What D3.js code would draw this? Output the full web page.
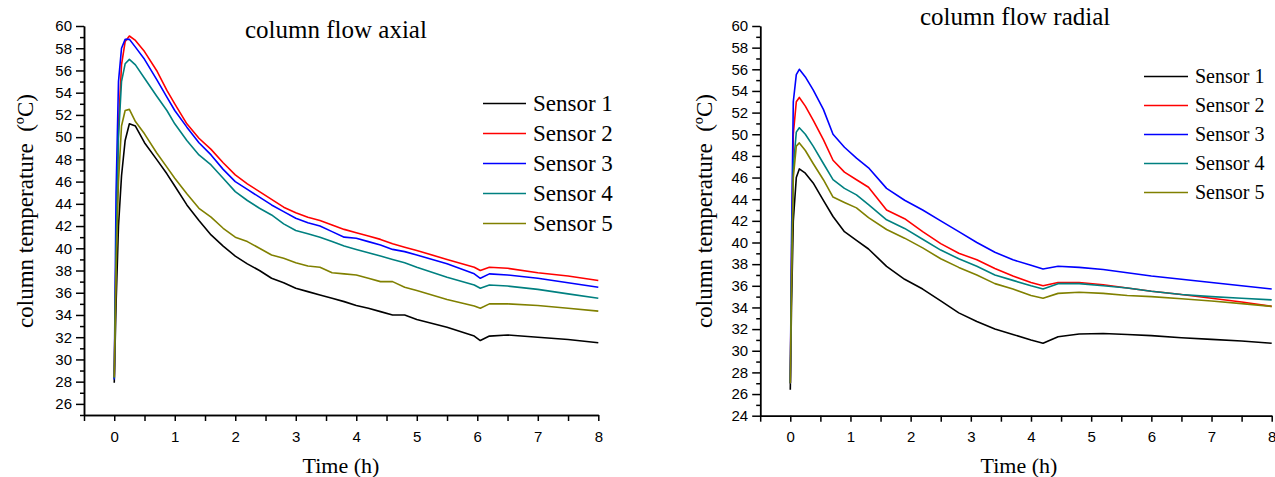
<!DOCTYPE html>
<html lang="en">
<head>
    <meta charset="UTF-8">
    <title>column flow</title>
    <style>
        html,
        body {
            margin: 0;
            height: 100%;
            overflow: hidden;
            background: #fff;
        }
        .serif {
            font-family: "Liberation Serif", "Times New Roman", serif;
        }
    </style>
    <script src="https://d3js.org/d3.v7.min.js"></script>
</head>
<body>
    <svg id="svg"></svg>
    <script>
        // ---- data (time in h, temperature in ºC) ----
        const sensorNames = ['Sensor 1', 'Sensor 2', 'Sensor 3', 'Sensor 4', 'Sensor 5'];
        const xTickLabels = [0, 1, 2, 3, 4, 5, 6, 7, 8];
        const axialYTicks = [26, 28, 30, 32, 34, 36, 38, 40, 42, 44, 46, 48, 50, 52, 54, 56, 58, 60];
        const radialYTicks = [24, 26, 28, 30, 32, 34, 36, 38, 40, 42, 44, 46, 48, 50, 52, 54, 56, 58, 60];

        const axialTime = [0, 0.03, 0.07, 0.12, 0.18, 0.25, 0.35, 0.5, 0.7, 0.87, 1.0, 1.2, 1.4, 1.6, 1.8, 2.0, 2.2, 2.4, 2.6, 2.8, 3.0, 3.2, 3.4, 3.6, 3.8, 4.0, 4.2, 4.4, 4.6, 4.8, 5.0, 5.5, 5.95, 6.05, 6.2, 6.5, 7.0, 7.5, 8.0];
        const axialS1 = [27.9, 35, 42, 46.5, 49.7, 51.2, 51.0, 49.5, 48.0, 46.7, 45.6, 43.9, 42.5, 41.2, 40.2, 39.3, 38.6, 38.0, 37.3, 36.9, 36.4, 36.1, 35.8, 35.5, 35.2, 34.85, 34.6, 34.3, 34.0, 34.0, 33.6, 32.9, 32.1, 31.7, 32.1, 32.2, 32.0, 31.8, 31.5];
        const axialS2 = [28.3, 40, 51, 56.5, 58.6, 59.1, 58.7, 57.7, 56.0, 54.2, 53.0, 51.2, 49.9, 48.9, 47.7, 46.6, 45.8, 45.1, 44.4, 43.7, 43.2, 42.8, 42.5, 42.1, 41.7, 41.4, 41.1, 40.8, 40.4, 40.1, 39.8, 39.0, 38.3, 38.0, 38.3, 38.2, 37.8, 37.5, 37.1];
        const axialS3 = [28.2, 45, 55, 58, 58.8, 58.8, 58.1, 57.0, 55.2, 53.6, 52.4, 50.9, 49.5, 48.4, 47.1, 46.0, 45.3, 44.6, 43.9, 43.3, 42.7, 42.3, 42.0, 41.5, 41.0, 40.9, 40.6, 40.3, 39.9, 39.7, 39.4, 38.6, 37.7, 37.3, 37.7, 37.6, 37.3, 36.9, 36.5];
        const axialS4 = [28.3, 40, 50, 55, 56.6, 57.0, 56.5, 55.3, 53.7, 52.4, 51.2, 49.7, 48.4, 47.5, 46.3, 45.1, 44.3, 43.6, 43.0, 42.2, 41.6, 41.3, 41.0, 40.6, 40.2, 39.9, 39.6, 39.3, 39.0, 38.7, 38.3, 37.4, 36.7, 36.4, 36.7, 36.6, 36.3, 35.9, 35.5];
        const axialS5 = [28.4, 38, 46, 51, 52.4, 52.5, 51.4, 50.3, 48.6, 47.3, 46.3, 44.9, 43.6, 42.8, 41.8, 41.0, 40.6, 40.0, 39.4, 39.1, 38.7, 38.4, 38.3, 37.8, 37.7, 37.6, 37.3, 37.0, 37.0, 36.5, 36.2, 35.4, 34.8, 34.6, 35.0, 35.0, 34.85, 34.6, 34.35];

        const radialTime = [0, 0.02, 0.05, 0.1, 0.15, 0.25, 0.38, 0.55, 0.71, 0.9, 1.1, 1.3, 1.6, 1.9, 2.2, 2.5, 2.8, 3.1, 3.4, 3.7, 4.0, 4.2, 4.45, 4.8, 5.2, 5.6, 6.0, 6.5, 7.0, 7.5, 8.0];
        const radialS1 = [26.4, 34, 42, 46.0, 46.8, 46.4, 45.5, 43.9, 42.4, 41.0, 40.2, 39.4, 37.8, 36.6, 35.7, 34.6, 33.5, 32.7, 32.0, 31.5, 31.0, 30.7, 31.3, 31.55, 31.6, 31.5, 31.4, 31.2, 31.05, 30.9, 30.7];
        const radialS2 = [27, 38, 50, 53, 53.4, 52.6, 51.3, 49.5, 47.6, 46.5, 45.8, 45.1, 43.0, 42.2, 41.0, 39.9, 39.0, 38.4, 37.6, 36.9, 36.3, 36.0, 36.3, 36.3, 36.1, 35.8, 35.5, 35.2, 34.85, 34.5, 34.1];
        const radialS3 = [27, 40, 53, 55.5, 56.0, 55.3, 54.1, 52.3, 50.0, 48.8, 47.8, 46.9, 45.0, 43.9, 43.0, 42.0, 41.0, 40.0, 39.1, 38.4, 37.9, 37.55, 37.8, 37.7, 37.5, 37.2, 36.9, 36.6, 36.3, 36.0, 35.7];
        const radialS4 = [27, 37, 47, 50.2, 50.6, 50.0, 48.9, 47.3, 45.8, 45.0, 44.4, 43.5, 42.1, 41.3, 40.3, 39.3, 38.5, 37.8, 37.0, 36.5, 36.0, 35.7, 36.2, 36.2, 36.0, 35.8, 35.5, 35.2, 35.0, 34.85, 34.7];
        const radialS5 = [27, 36, 46, 48.9, 49.2, 48.5, 47.3, 45.8, 44.2, 43.7, 43.2, 42.3, 41.2, 40.4, 39.5, 38.5, 37.7, 37.0, 36.2, 35.7, 35.1, 34.85, 35.3, 35.4, 35.3, 35.1, 35.0, 34.8, 34.6, 34.35, 34.1];

        const colors = ['#000000', '#ff0000', '#0000ff', '#008080', '#808000'];

        const svg = d3.select('#svg').attr('width', 1275).attr('height', 477);

        function drawPanel(p) {
            const g = svg.append('g');
            const xScale = d3.scaleLinear().domain([-0.5, 8]).range(p.xRange);
            const yScale = d3.scaleLinear().domain(p.yDomain).range(p.yRange);
            const yMinor = d3.range(p.yDomain[0], p.yDomain[1], 1).filter(v => !p.yTicks.includes(v));
            const xMinor = d3.range(-0.5, 8, 1);

            // minor ticks first, then major ticks with labels
            g.append('g').attr('transform', `translate(${p.xRange[0]},0)`)
                .call(d3.axisLeft(yScale).tickValues(yMinor).tickSize(4).tickSizeOuter(0).tickFormat(''));
            g.append('g').attr('transform', `translate(${p.xRange[0]},0)`)
                .call(d3.axisLeft(yScale).tickValues(p.yTicks).tickSize(8).tickSizeOuter(0).tickPadding(4));
            g.append('g').attr('transform', `translate(0,${p.yRange[0]})`)
                .call(d3.axisBottom(xScale).tickValues(xMinor).tickSize(6).tickSizeOuter(0).tickFormat(''));
            g.append('g').attr('transform', `translate(0,${p.yRange[0]})`)
                .call(d3.axisBottom(xScale).tickValues(xTickLabels).tickSize(6).tickSizeOuter(0).tickPadding(10));

            g.selectAll('.domain, .tick line').attr('stroke', '#000').attr('stroke-width', 1.5);
            g.selectAll('.tick text').style('font-family', '"Liberation Sans", Arial, sans-serif')
                .style('font-size', '15px').attr('fill', '#000');

            const line = d3.line()
                .x((d, i) => xScale(p.time[i]))
                .y(d => yScale(d));

            g.selectAll('.series').data(p.series).join('path').attr('class', 'series')
                .attr('d', d => line(d))
                .attr('fill', 'none')
                .attr('stroke', (d, i) => colors[i])
                .attr('stroke-width', 1.6)
                .attr('stroke-linejoin', 'round');

            // texts
            g.append('text').attr('class', 'serif').text(p.title)
                .attr('x', p.titlePos[0]).attr('y', p.titlePos[1])
                .style('font-size', '25px');
            g.append('text').attr('class', 'serif').text('Time (h)')
                .attr('x', p.xLabelPos[0]).attr('y', p.xLabelPos[1])
                .attr('text-anchor', 'middle')
                .style('font-size', '22px');
            g.append('text').attr('class', 'serif').text('column temperature  (ºC)')
                .attr('transform', `translate(${p.yLabelPos[0]},${p.yLabelPos[1]}) rotate(-90)`)
                .attr('text-anchor', 'middle')
                .style('white-space', 'pre')
                .style('font-size', '23px');

            // legend
            const lg = g.append('g').attr('transform', `translate(${p.legend.x},${p.legend.y})`);
            const rows = lg.selectAll('g').data(sensorNames).join('g')
                .attr('transform', (d, i) => `translate(0,${i * p.legend.step})`);
            rows.append('line').attr('x1', 0).attr('x2', p.legend.len).attr('y1', 0).attr('y2', 0)
                .attr('stroke', (d, i) => colors[i]).attr('stroke-width', 1.6);
            rows.append('text').attr('class', 'serif').text(d => d)
                .attr('x', p.legend.len + 7).attr('y', p.legend.size * 0.32)
                .style('font-size', p.legend.size + 'px');
        }

        drawPanel({
            xRange: [84, 598.3],
            yDomain: [25, 60],
            yRange: [415, 26],
            yTicks: axialYTicks,
            time: axialTime,
            series: [axialS1, axialS2, axialS3, axialS4, axialS5],
            title: 'column flow axial',
            titlePos: [245, 38],
            xLabelPos: [341, 473],
            yLabelPos: [33, 211],
            legend: { x: 483, y: 103.5, step: 30, len: 43, size: 23 }
        });

        drawPanel({
            xRange: [760.2, 1271.7],
            yDomain: [24, 60],
            yRange: [415.7, 26],
            yTicks: radialYTicks,
            time: radialTime,
            series: [radialS1, radialS2, radialS3, radialS4, radialS5],
            title: 'column flow radial',
            titlePos: [920, 25],
            xLabelPos: [1019, 473],
            yLabelPos: [712, 211],
            legend: { x: 1144, y: 76.5, step: 29, len: 44, size: 20 }
        });
    </script>
</body>
</html>
